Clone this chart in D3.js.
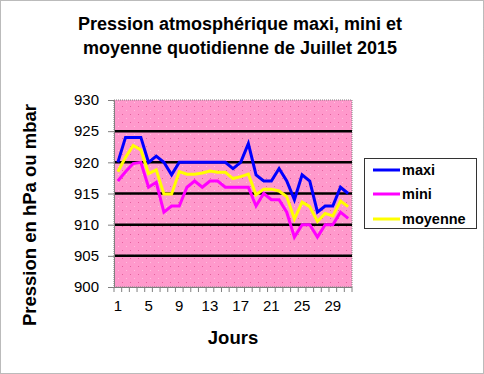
<html>
<head>
  <style>
    body { margin: 0; background: #fff; }
    svg text { font-family: "Liberation Sans", Arial, sans-serif; }
  </style>
  <script src="https://d3js.org/d3.v7.min.js"></script>
</head>
<body>
<div id="chart"></div>
<script type="text/javascript">
  var days = [1,2,3,4,5,6,7,8,9,10,11,12,13,14,15,16,17,18,19,20,21,22,23,24,25,26,27,28,29,30,31]
  var maxi = [920,924,924,924,920,921,920,918,920,920,920,920,920,920,920,919,920,923,918,917,917,919,917,914,918,917,912,913,913,916,915]
  var mini = [917,918.5,919.8,920,916,916.8,912,913,913,916,917,916,917,917,916,916,916,916,913,915,914,914,912,908,910,910,908,910,910,912,911]
  var moyenne = [918.5,920.8,922.7,922,918.2,918.8,914.9,914.9,918.5,918.1,918.1,918.3,918.6,918.4,918.4,917.4,917.7,918.1,914.8,915.7,915.7,915.4,914.5,910.9,913.6,912.9,910.5,911.8,911.4,913.8,912.9]
  var yTicks = [900,905,910,915,920,925,930]
  var xLabels = [1,5,9,13,17,21,25,29]
  var series = [
    {name: "maxi", values: maxi, color: "#0000ff"},
    {name: "mini", values: mini, color: "#ff00ff"},
    {name: "moyenne", values: moyenne, color: "#ffff00"}
  ]

  var W = 484, H = 374
  var pLeft = 114, pRight = 352, pTop = 100, pBottom = 287

  var svg = d3.select("#chart").append("svg")
      .attr("width", W)
      .attr("height", H)

  var defs = svg.append("defs")
  var pat = defs.append("pattern")
      .attr("id", "dots")
      .attr("patternUnits", "userSpaceOnUse")
      .attr("width", 8).attr("height", 8)
  pat.append("rect").attr("width", 8).attr("height", 8).attr("fill", "#ff99cc")
  pat.append("rect").attr("x", 2).attr("y", 2).attr("width", 1).attr("height", 1).attr("fill", "#e6609e")
  pat.append("rect").attr("x", 6).attr("y", 6).attr("width", 1).attr("height", 1).attr("fill", "#ffc0e0")

  // outer border
  svg.append("rect")
      .attr("x", 0.5).attr("y", 0.5)
      .attr("width", W - 1).attr("height", H - 1)
      .attr("fill", "white")
      .attr("stroke", "#777").attr("stroke-dasharray", "1,1")

  var x = d3.scaleBand().domain(days).range([pLeft, pRight]).padding(0)
  var y = d3.scaleLinear().domain([900, 930]).range([pBottom, pTop])
  var cx = function(d) { return x(d) + x.bandwidth() / 2 }

  // plot area
  svg.append("rect")
      .attr("x", pLeft).attr("y", pTop)
      .attr("width", pRight - pLeft).attr("height", pBottom - pTop)
      .attr("fill", "url(#dots)")
      .attr("stroke", "#808080").attr("stroke-dasharray", "1,1")

  // gridlines
  svg.selectAll(".grid")
      .data(yTicks.filter(function(d) { return d > 900 && d < 930 }))
      .enter().append("line")
      .attr("x1", pLeft).attr("x2", pRight)
      .attr("y1", function(d) { return y(d) }).attr("y2", function(d) { return y(d) })
      .attr("stroke", "black").attr("stroke-width", 2.5)

  // y axis
  var yAxis = svg.append("g")
      .attr("transform", "translate(" + pLeft + ",0)")
      .call(d3.axisLeft(y).tickValues(yTicks).tickSize(6).tickPadding(9))
  yAxis.select(".domain").attr("stroke", "#808080")
  yAxis.selectAll(".tick line").attr("stroke", "#808080")
  yAxis.selectAll("text").attr("font-size", 15).attr("fill", "black")
      .attr("font-family", "Liberation Sans, Arial, sans-serif")

  // x axis: boundary ticks
  var bounds = days.map(function(d) { return x(d) }).concat([pRight])
  var xAxis = svg.append("g")
  xAxis.append("line")
      .attr("x1", pLeft).attr("x2", pRight)
      .attr("y1", pBottom + 0.5).attr("y2", pBottom + 0.5)
      .attr("stroke", "#808080")
  xAxis.selectAll(".xt")
      .data(bounds).enter().append("line")
      .attr("x1", function(d) { return d }).attr("x2", function(d) { return d })
      .attr("y1", pBottom).attr("y2", pBottom + 5)
      .attr("stroke", "#808080")
  xAxis.selectAll(".xl")
      .data(xLabels).enter().append("text")
      .attr("x", function(d) { return cx(d) })
      .attr("y", 311)
      .attr("text-anchor", "middle")
      .attr("font-size", 15)
      .text(function(d) { return d })

  // lines
  var line = d3.line()
      .x(function(d, i) { return cx(days[i]) })
      .y(function(d) { return y(d) })
  svg.selectAll(".series")
      .data(series).enter().append("path")
      .attr("d", function(s) { return line(s.values) })
      .attr("fill", "none")
      .attr("stroke", function(s) { return s.color })
      .attr("stroke-width", 3)
      .attr("stroke-linejoin", "miter")

  // titles
  var title = svg.append("text")
      .attr("text-anchor", "middle")
      .attr("font-size", 18).attr("font-weight", "bold")
  title.append("tspan").attr("x", 240).attr("y", 30).text("Pression atmosphérique maxi, mini et")
  title.append("tspan").attr("x", 240).attr("y", 54).text("moyenne quotidienne de Juillet 2015")

  svg.append("text")
      .attr("x", 233).attr("y", 344)
      .attr("text-anchor", "middle")
      .attr("font-size", 18.5).attr("font-weight", "bold")
      .text("Jours")

  svg.append("text")
      .attr("transform", "translate(36,215) rotate(-90)")
      .attr("text-anchor", "middle")
      .attr("font-size", 18.5).attr("font-weight", "bold")
      .text("Pression en hPa ou mbar")

  // legend
  var lg = svg.append("g")
  lg.append("rect")
      .attr("x", 364.5).attr("y", 158.5)
      .attr("width", 112).attr("height", 70)
      .attr("fill", "white").attr("stroke", "#333")
  var items = lg.selectAll(".li").data(series).enter().append("g")
      .attr("transform", function(s, i) { return "translate(0," + [170, 194, 219][i] + ")" })
  items.append("line")
      .attr("x1", 373).attr("x2", 400)
      .attr("stroke", function(s) { return s.color })
      .attr("stroke-width", 3)
  items.append("text")
      .attr("x", 402).attr("y", 5)
      .attr("font-size", 14.5).attr("font-weight", "bold")
      .text(function(s) { return s.name })
</script>
</body>
</html>
